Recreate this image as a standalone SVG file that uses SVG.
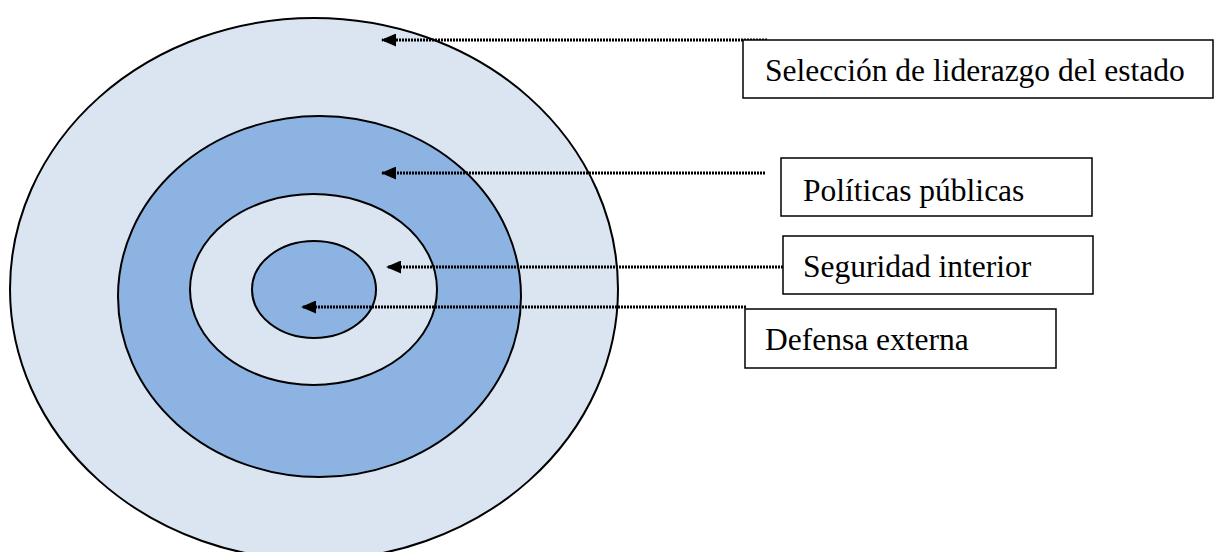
<svg xmlns="http://www.w3.org/2000/svg" width="1216" height="552" viewBox="0 0 1216 552">
<style>
.ring{stroke:#000;stroke-width:2}
.light{fill:#DBE5F1}
.dark{fill:#8DB3E2}
.box{fill:#fff;stroke:#000;stroke-width:1.5}
.lbl{font-family:"Liberation Serif","Times New Roman",serif;font-size:31.5px;fill:#000}
.conn{stroke:#000;stroke-width:3;stroke-dasharray:2 1;fill:none}
</style>
<defs>
<marker id="ah" markerWidth="15" markerHeight="13" refX="14" refY="6.5" orient="auto" markerUnits="userSpaceOnUse">
<path d="M0,0 L15,6.5 L0,13 Z" fill="#000"/>
</marker>
</defs>
<g id="rings">
<ellipse id="ring-outer" class="ring light" cx="314" cy="289" rx="304" ry="271"/>
<ellipse id="ring-2" class="ring dark" cx="319.5" cy="296.5" rx="201.5" ry="180.5"/>
<ellipse id="ring-3" class="ring light" cx="313.5" cy="289.5" rx="123.5" ry="95.5"/>
<ellipse id="ring-core" class="ring dark" cx="314" cy="289.5" rx="62" ry="48.5"/>
</g>
<g id="connectors">
<path class="conn" d="M767,40 L382,40" marker-end="url(#ah)"/>
<path class="conn" d="M765,173 L382,173" marker-end="url(#ah)"/>
<path class="conn" d="M783,267 L387,267" marker-end="url(#ah)"/>
<path class="conn" d="M746,307 L302,307" marker-end="url(#ah)"/>
</g>
<g id="node-liderazgo">
<rect class="box" x="743" y="40" width="470" height="58"/>
<text class="lbl" x="765" y="81">Selección de liderazgo del estado</text>
</g>
<g id="node-politicas">
<rect class="box" x="781" y="158" width="311" height="58"/>
<text class="lbl" x="803" y="201">Políticas públicas</text>
</g>
<g id="node-seguridad">
<rect class="box" x="783" y="236" width="310" height="58"/>
<text class="lbl" x="803" y="277">Seguridad interior</text>
</g>
<g id="node-defensa">
<rect class="box" x="745" y="309" width="311" height="59"/>
<text class="lbl" x="765" y="350">Defensa externa</text>
</g>
</svg>
